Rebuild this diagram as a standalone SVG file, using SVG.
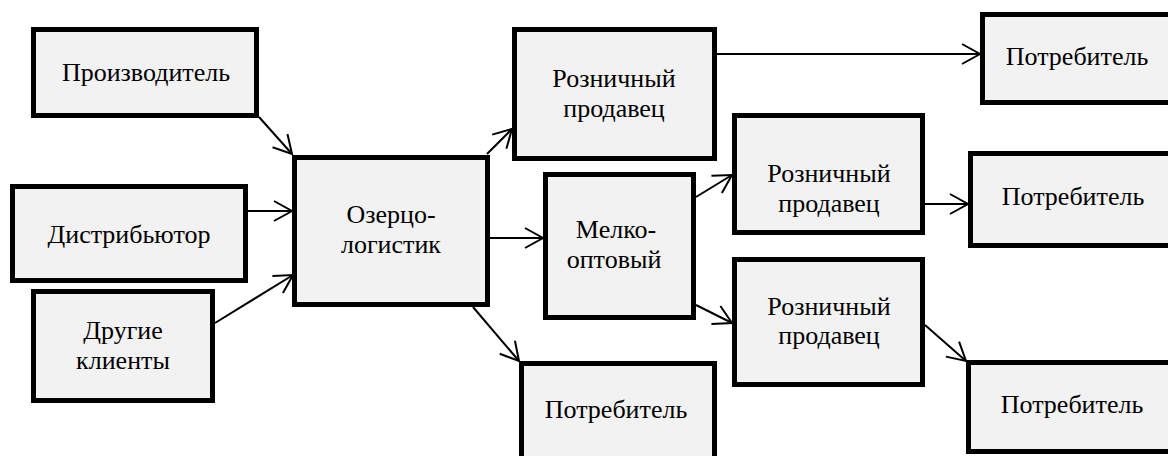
<svg xmlns="http://www.w3.org/2000/svg" width="1168" height="456" viewBox="0 0 1168 456">
<style>
.box{fill:#f2f2f2;stroke:#000;stroke-width:5}
.c{stroke:#000;stroke-width:2;fill:none;marker-end:url(#ah)}
</style>
<defs>
<marker id="ah" markerUnits="userSpaceOnUse" markerWidth="24" markerHeight="24" viewBox="-20 -12 24 24" refX="0" refY="0" orient="auto">
<path d="M-18,-10 L0,0 L-18,10" fill="none" stroke="#000" stroke-width="2"/>
</marker>
</defs>
<rect width="1168" height="456" fill="#fff"/>
<g id="connectors">
<line class="c" x1="259" y1="117" x2="292" y2="154"/>
<line class="c" x1="248" y1="211" x2="292" y2="211"/>
<line class="c" x1="215" y1="323" x2="293" y2="275"/>
<line class="c" x1="487" y1="154" x2="512" y2="129"/>
<line class="c" x1="490" y1="238" x2="543" y2="238"/>
<line class="c" x1="473" y1="307" x2="519" y2="361"/>
<line class="c" x1="717" y1="54" x2="980" y2="54"/>
<line class="c" x1="696" y1="197" x2="732" y2="175"/>
<line class="c" x1="696" y1="305" x2="732" y2="323"/>
<line class="c" x1="925" y1="204" x2="968" y2="204"/>
<line class="c" x1="925" y1="325" x2="966" y2="361"/>
</g>
<g font-family="Liberation Serif, serif" font-size="26" text-anchor="middle" fill="#000">
<g id="proizvoditel">
<rect class="box" x="33.5" y="29.5" width="223" height="86"/>
<text x="146" y="81">Производитель</text>
</g>
<g id="distributor">
<rect class="box" x="12.5" y="186.5" width="233" height="94"/>
<text x="129" y="243">Дистрибьютор</text>
</g>
<g id="drugie">
<rect class="box" x="33.5" y="291.5" width="179" height="109"/>
<text x="123" y="339">Другие</text>
<text x="123" y="369">клиенты</text>
</g>
<g id="ozertso">
<rect class="box" x="294.5" y="157.5" width="193" height="147"/>
<text x="391" y="223">Озерцо-</text>
<text x="391" y="253">логистик</text>
</g>
<g id="roznichny1">
<rect class="box" x="514.5" y="29.5" width="200" height="129"/>
<text x="614" y="87">Розничный</text>
<text x="614" y="117">продавец</text>
</g>
<g id="melkooptovy">
<rect class="box" x="545.5" y="174.5" width="148" height="143"/>
<text x="616" y="238">Мелко-</text>
<text x="614" y="268">оптовый</text>
</g>
<g id="potrebitel1">
<rect class="box" x="521.5" y="363.5" width="193" height="110"/>
<text x="616" y="418">Потребитель</text>
</g>
<g id="roznichny2">
<rect class="box" x="734.5" y="115.5" width="188" height="117"/>
<text x="829" y="182">Розничный</text>
<text x="829" y="212">продавец</text>
</g>
<g id="roznichny3">
<rect class="box" x="734.5" y="259.5" width="188" height="125"/>
<text x="829" y="315">Розничный</text>
<text x="829" y="344">продавец</text>
</g>
<g id="potrebitel2">
<rect class="box" x="982.5" y="14.5" width="200" height="88"/>
<text x="1077" y="65">Потребитель</text>
</g>
<g id="potrebitel3">
<rect class="box" x="970.5" y="153.5" width="210" height="92"/>
<text x="1073" y="205">Потребитель</text>
</g>
<g id="potrebitel4">
<rect class="box" x="968.5" y="362.5" width="210" height="89"/>
<text x="1072" y="413">Потребитель</text>
</g>
</g>
</svg>
